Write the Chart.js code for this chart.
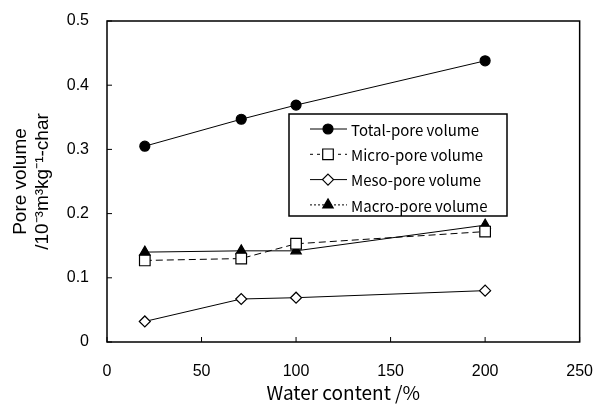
<!DOCTYPE html>
<html lang="en">
<head>
  <meta charset="UTF-8">
  <title>Pore volume vs water content</title>
  <script src="https://cdn.jsdelivr.net/npm/chart.js"></script>
  <style>
    html, body { margin: 0; padding: 0; background: #fff; }
    #wrap { width: 605px; height: 404px; }
  </style>
</head>
<body>
  <div id="wrap"><canvas id="poreChart" width="605" height="404"></canvas></div>

  <script type="text/javascript">
    // values
    const waterContent = [20, 71, 100, 200];
    const totalPore = [0.305, 0.347, 0.369, 0.438];
    const microPore = [0.127, 0.130, 0.153, 0.172];
    const mesoPore  = [0.032, 0.067, 0.069, 0.080];
    const macroPore = [0.140, 0.142, 0.142, 0.182];
    const seriesNames = ['Total-pore volume', 'Micro-pore volume', 'Meso-pore volume', 'Macro-pore volume'];

    const toXY = vals => vals.map((v, i) => ({ x: waterContent[i], y: v }));

    function drawMarker(ctx, style, x, y, r, filled) {
      ctx.save();
      ctx.beginPath();
      if (style === 'circle') {
        ctx.arc(x, y, r, 0, Math.PI * 2);
      } else if (style === 'rect') {
        const s = Math.SQRT1_2 * r;
        ctx.rect(x - s, y - s, 2 * s, 2 * s);
      } else if (style === 'rectRot') {
        ctx.moveTo(x, y - r); ctx.lineTo(x + r, y); ctx.lineTo(x, y + r); ctx.lineTo(x - r, y); ctx.closePath();
      } else if (style === 'triangle') {
        const h = r * 1.5, half = r * Math.sqrt(3) / 2;
        ctx.moveTo(x, y - h * 2 / 3); ctx.lineTo(x + half, y + h / 3); ctx.lineTo(x - half, y + h / 3); ctx.closePath();
      }
      ctx.fillStyle = filled ? '#000' : '#fff';
      ctx.fill();
      ctx.lineWidth = 1.2;
      ctx.strokeStyle = '#000';
      ctx.stroke();
      ctx.restore();
    }

    // frame, inward ticks and the boxed legend
    const framePlugin = {
      id: 'frame',
      afterDraw(chart) {
        const { ctx, chartArea: a, scales } = chart;
        ctx.save();
        ctx.strokeStyle = '#000';
        ctx.lineWidth = 1.5;
        ctx.strokeRect(a.left, a.top, a.right - a.left, a.bottom - a.top);
        ctx.lineWidth = 1;
        ctx.beginPath();
        scales.x.ticks.forEach(t => {
          const px = scales.x.getPixelForValue(t.value);
          ctx.moveTo(px, a.bottom); ctx.lineTo(px, a.bottom - 5);
        });
        scales.y.ticks.forEach(t => {
          const py = scales.y.getPixelForValue(t.value);
          ctx.moveTo(a.left, py); ctx.lineTo(a.left + 5, py);
        });
        ctx.stroke();

        // legend
        const lx = 289, ly = 114, lw = 218, lh = 102;
        ctx.fillStyle = '#fff';
        ctx.fillRect(lx, ly, lw, lh);
        ctx.lineWidth = 1.5;
        ctx.strokeRect(lx, ly, lw, lh);
        ctx.font = '15px "Noto Sans CJK JP", "DejaVu Sans", sans-serif';
        ctx.textBaseline = 'middle';
        chart.data.datasets.forEach((ds, i) => {
          const y = ly + 15 + i * 25.3;
          ctx.save();
          ctx.lineWidth = 1;
          ctx.setLineDash(ds.legendDash || []);
          ctx.beginPath();
          ctx.moveTo(lx + 21, y); ctx.lineTo(lx + 58, y);
          ctx.stroke();
          ctx.restore();
          drawMarker(ctx, ds.pointStyle, lx + 39, y, ds.pointRadius, ds.pointBackgroundColor === '#000');
          ctx.fillStyle = '#000';
          ctx.fillText(ds.label, lx + 62, y + 1);
        });
        ctx.restore();
      }
    };

    const common = { borderColor: '#000', borderWidth: 1, pointBorderColor: '#000', pointBorderWidth: 1.2, tension: 0 };

    new Chart(document.getElementById('poreChart'), {
      type: 'line',
      data: {
        datasets: [
          Object.assign({ label: seriesNames[0], data: toXY(totalPore), pointStyle: 'circle', pointRadius: 5, pointBackgroundColor: '#000' }, common),
          Object.assign({ label: seriesNames[1], data: toXY(microPore), pointStyle: 'rect', pointRadius: 7.5, pointBackgroundColor: '#fff', borderDash: [7, 4], legendDash: [3, 4] }, common),
          Object.assign({ label: seriesNames[2], data: toXY(mesoPore), pointStyle: 'rectRot', pointRadius: 5.5, pointBackgroundColor: '#fff' }, common),
          Object.assign({ label: seriesNames[3], data: toXY(macroPore), pointStyle: 'triangle', pointRadius: 6, pointBackgroundColor: '#000', legendDash: [2, 2] }, common)
        ]
      },
      options: {
        responsive: false,
        animation: false,
        layout: { padding: { left: 0, right: 19, top: 21, bottom: 0 } },
        plugins: { legend: { display: false }, tooltip: { enabled: false } },
        scales: {
          x: {
            type: 'linear', min: 0, max: 250,
            ticks: { stepSize: 50, color: '#000', padding: 12, maxRotation: 0, font: { family: '"Liberation Sans", Arial, sans-serif', size: 16 } },
            grid: { display: false },
            border: { display: false },
            title: { display: true, text: 'Water content /%', color: '#000', padding: { top: 0, bottom: 0 },
              font: { family: '"Noto Sans CJK JP", "Liberation Sans", sans-serif', size: 19, lineHeight: 1.2 } },
            afterFit: s => { s.height = 62; }
          },
          y: {
            min: 0, max: 0.5,
            ticks: { stepSize: 0.1, color: '#000', padding: 10, font: { family: '"Liberation Sans", Arial, sans-serif', size: 16 },
              callback: v => (v === 0 ? '0' : v.toFixed(1)) },
            grid: { display: false },
            border: { display: false },
            title: { display: true, text: ['Pore volume', '/10\u207B\u00B3m\u00B3kg\u207B\u00B9-char'], color: '#000', padding: { top: 9, bottom: 0 },
              font: { family: '"Liberation Sans", Arial, sans-serif', size: 19, lineHeight: 1.2 } },
            afterFit: s => { s.width = 107; }
          }
        }
      },
      plugins: [framePlugin]
    });
  </script>
</body>
</html>
